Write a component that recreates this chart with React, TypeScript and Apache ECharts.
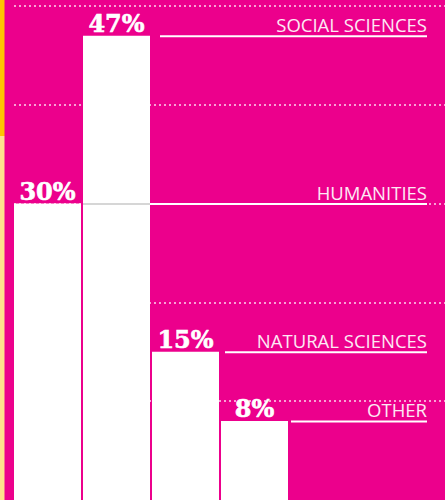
import React, { useEffect, useRef } from "react";
import * as echarts from "echarts";

const categories = ["HUMANITIES", "SOCIAL SCIENCES", "NATURAL SCIENCES", "OTHER"];
const shares = [30, 47, 15, 8];
const valueLabels = ["30%", "47%", "15%", "8%"];

const BG = "#EC008C";
const BAR_W = 67;
const LINE_GAP = [2, 10, 6, 3];
const LABEL_RIGHT = 427;

export default function App() {
  const ref = useRef<HTMLDivElement>(null);
  useEffect(() => {
    const chart = echarts.init(ref.current!, null, { renderer: "svg" });
    chart.setOption({
      animation: false,
      backgroundColor: BG,
      grid: [
        { left: 13, top: 6, width: 276, bottom: 0 },
        { left: 14, top: 6, right: 0, bottom: 0 },
      ],
      xAxis: [
        { type: "category", data: categories, gridIndex: 0, show: false },
        { type: "value", gridIndex: 1, show: false, min: 0, max: 1 },
      ],
      yAxis: [
        { type: "value", gridIndex: 0, min: 0, max: 50, interval: 10, show: false },
        {
          type: "value",
          gridIndex: 1,
          min: 0,
          max: 50,
          interval: 10,
          axisLine: { show: false },
          axisTick: { show: false },
          axisLabel: { show: false },
          splitLine: {
            show: true,
            showMinLine: false,
            lineStyle: { color: "rgba(255,255,255,0.85)", width: 1.5, type: [2, 3] },
          },
        },
      ],
      graphic: [
        { type: "rect", shape: { x: 0, y: 0, width: 4.5, height: 136 }, style: { fill: "#FFC400" }, z: 10 },
        { type: "rect", shape: { x: 0, y: 136, width: 4.5, height: 364 }, style: { fill: "#FFE08C" }, z: 10 },
      ],
      series: [
        {
          type: "bar",
          xAxisIndex: 0,
          yAxisIndex: 0,
          data: shares,
          barWidth: BAR_W,
          itemStyle: { color: "#ffffff" },
          z: 3,
          label: {
            show: true,
            position: "top",
            distance: 0,
            formatter: (p: any) => valueLabels[p.dataIndex],
            color: "#ffffff",
            fontFamily: "DejaVu Serif",
            fontWeight: "bold",
            fontSize: 24,
            textBorderColor: "#ffffff",
            textBorderWidth: 0.6,
          },
        },
        {
          type: "custom",
          xAxisIndex: 0,
          yAxisIndex: 0,
          z: 5,
          data: shares.map((v, i) => [i, v]),
          renderItem: (params: any, api: any) => {
            const i = api.value(0);
            const v = api.value(1);
            const p = api.coord([i, v]);
            const right = p[0] + BAR_W / 2;
            const y = p[1] + 0.5;
            const x1 = right + LINE_GAP[i];
            const children: any[] = [];
            let start = x1;
            if (i + 1 < shares.length && shares[i + 1] > v) {
              const nb = api.coord([i + 1, 0]);
              const nbRight = nb[0] + BAR_W / 2;
              children.push({
                type: "line",
                shape: { x1: start, y1: y, x2: nbRight, y2: y },
                style: { stroke: "#d6d6d6", lineWidth: 2 },
              });
              start = nbRight;
            }
            children.push({
              type: "line",
              shape: { x1: start, y1: y, x2: LABEL_RIGHT, y2: y },
              style: { stroke: "#ffffff", lineWidth: 2 },
            });
            children.push({
              type: "text",
              style: {
                text: categories[i],
                x: LABEL_RIGHT,
                y: y - 12,
                align: "right",
                verticalAlign: "middle",
                fill: "#fde9f4",
                font: '400 18.5px "Open Sans"',
              },
            });
            return { type: "group", children };
          },
        },
      ],
    });
    return () => chart.dispose();
  }, []);
  return (
    <div
      ref={ref}
      style={{ position: "fixed", left: 0, top: 0, width: 445, height: 500 }}
    />
  );
}
